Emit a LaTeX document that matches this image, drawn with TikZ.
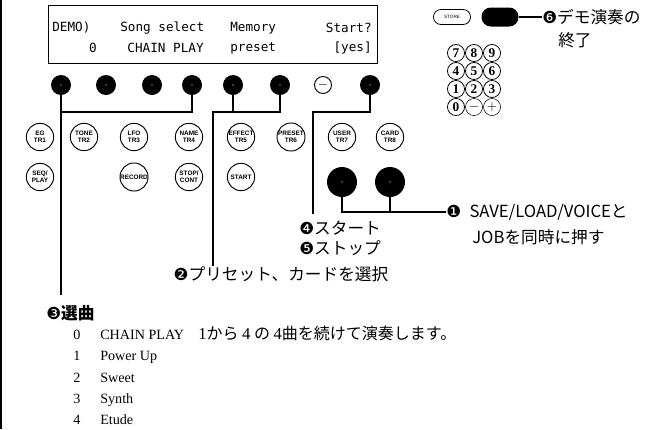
\documentclass[tikz,border=0pt]{standalone}
\usepackage{fontspec}
\setmainfont{Liberation Serif}
\setsansfont{Liberation Sans}
\newfontfamily\jpfont{Noto Sans CJK JP}
\newfontfamily\lcdfont{DejaVu Sans Mono}
\newfontfamily\dingfont{DejaVu Sans}
\usepackage{tikz}

\tikzset{
  lcdtext/.style={font=\lcdfont\fontsize{9.5}{10}\selectfont, inner sep=0pt},
  selbtn/.style={circle, fill=black, minimum size=15pt, inner sep=0pt,
    path picture={\fill[white] (path picture bounding box.center) circle (0.5pt);}},
  bigbtn/.style={selbtn, minimum size=22.5pt},
  keybtn/.style={circle, draw, line width=0.7pt, minimum size=20.5pt, inner sep=0pt,
    align=center, font=\sffamily\bfseries\fontsize{4.8}{5.2}\selectfont},
  padkey/.style={circle, draw, line width=0.6pt, minimum size=12.8pt, inner sep=0pt,
    font=\bfseries\fontsize{10}{10}\selectfont},
  conn/.style={line width=1.1pt},
  jplabel/.style={font=\jpfont\fontsize{12.5}{14}\selectfont, inner sep=0pt},
  listtext/.style={font=\fontsize{10.6}{12}\selectfont, inner sep=0pt},
}
\newcommand{\jplist}{\jpfont\fontsize{12}{12}\selectfont}
\newcommand{\bigdigit}{\fontsize{12.5}{12}\selectfont}

\begin{document}
\begin{tikzpicture}[x=0.75pt, y=-0.75pt]
\useasboundingbox (0,0) rectangle (655,429);

% page edge
\draw[line width=0.9pt] (1,0) -- (1,429);

% LCD
\node[draw, line width=0.6pt, minimum width=246.75pt, minimum height=43.5pt, inner sep=0pt] (lcd) at (212.5,34) {};
\node[lcdtext, anchor=west] (demo) at (52,28) {DEMO)};
\node[lcdtext, anchor=west] (song) at (120,28) {Song select};
\node[lcdtext, anchor=west] (mem) at (230,28) {Memory};
\node[lcdtext, anchor=east] (startq) at (372,28) {Start?};
\node[lcdtext] (songno) at (93,48) {0};
\node[lcdtext, anchor=east] (chain) at (204,48) {CHAIN PLAY};
\node[lcdtext, anchor=west] (preset) at (230,48) {preset};
\node[lcdtext, anchor=east] (yes) at (372,48) {[yes]};

% buttons under the LCD
\node[selbtn] (b1) at (61,85) {};
\node[selbtn] (b2) at (106,85) {};
\node[selbtn] (b3) at (152,85) {};
\node[selbtn] (b4) at (192,85) {};
\node[selbtn] (b5) at (233,85) {};
\node[selbtn] (b6) at (280,85) {};
\node[circle, draw, line width=0.7pt, minimum size=12.75pt, inner sep=0pt] (b7) at (323,85) {$-$};
\node[selbtn] (b8) at (370,85) {};

% panel buttons
\node[keybtn] (eg) at (40,137) {EG\\TR1};
\node[keybtn] (tone) at (84,137) {TONE\\TR2};
\node[keybtn] (lfo) at (134,137) {LFO\\TR3};
\node[keybtn] (name) at (189,137) {NAME\\TR4};
\node[keybtn] (effect) at (241,137) {EFFECT\\TR5};
\node[keybtn] (presetb) at (291,137) {PRESET\\TR6};
\node[keybtn] (user) at (342,137) {USER\\TR7};
\node[keybtn] (card) at (390,137) {CARD\\TR8};
\node[keybtn] (seq) at (40,177) {SEQ/\\PLAY};
\node[keybtn] (record) at (134,177) {RECORD};
\node[keybtn] (stop) at (189,177) {STOP/\\CONT};
\node[keybtn] (start) at (241,177) {START};
\node[bigbtn] (save) at (342,182) {};
\node[bigbtn] (job) at (390,182) {};

% STORE and demo buttons
\node[draw, line width=0.6pt, rounded corners=5.5pt, minimum width=27.75pt, minimum height=11.25pt,
  inner sep=0pt, font=\sffamily\fontsize{3.5}{4}\selectfont] (store) at (452,17) {STORE};
\node[fill=black, rounded corners=7pt, minimum width=27.75pt, minimum height=14.25pt, inner sep=0pt] (play) at (500,17) {};

% ten keys
\node[padkey] (k7) at (456,53) {7};
\node[padkey] (k8) at (474,53) {8};
\node[padkey] (k9) at (492,53) {9};
\node[padkey] (k4) at (456,71) {4};
\node[padkey] (k5) at (474,71) {5};
\node[padkey] (k6) at (492,71) {6};
\node[padkey] (k1) at (456,89) {1};
\node[padkey] (k2) at (474,89) {2};
\node[padkey] (k3) at (492,89) {3};
\node[padkey] (k0) at (456,107) {0};
\node[padkey, line width=0.4pt] (kminus) at (474,107) {$-$};
\node[padkey, line width=0.4pt] (kplus) at (492,107) {$+$};

% labels
\node[jplabel, anchor=west] (demolab) at (542,17) {{\dingfont ❻}デモ演奏の};
\node[jplabel, anchor=west] (endlab) at (558,40) {終了};
\node[jplabel, anchor=west] (savelab) at (446,212) {{\dingfont ❶}\enspace SAVE/LOAD/VOICEと};
\node[jplabel, anchor=west] (joblab) at (472,237) {JOBを同時に押す};
\node[jplabel, anchor=west] (startlab) at (299,228) {{\dingfont ❹}スタート};
\node[jplabel, anchor=west] (stoplab) at (299,248) {{\dingfont ❺}ストップ};
\node[jplabel] (cardlab) at (281,274) {{\dingfont ❷}プリセット、カードを選択};
\node[jplabel, anchor=west] (songlab) at (46,313) {{\dingfont ❸}\bfseries 選曲};

% song list (on common baselines)
\node[listtext, anchor=base] (n0) at (77,339) {0};
\node[listtext, anchor=base] (n1) at (77,360) {1};
\node[listtext, anchor=base] (n2) at (77,382) {2};
\node[listtext, anchor=base] (n3) at (77,403) {3};
\node[listtext, anchor=base] (n4) at (77,424) {4};
\node[listtext, anchor=base west] (s0) at (100,339) {CHAIN PLAY\quad {\bigdigit 1}{\jplist から} {\bigdigit 4} {\jplist の} {\bigdigit 4}{\jplist 曲を続けて演奏します。}};
\node[listtext, anchor=base west] (s1) at (100,360) {Power Up};
\node[listtext, anchor=base west] (s2) at (100,382) {Sweet};
\node[listtext, anchor=base west] (s3) at (100,403) {Synth};
\node[listtext, anchor=base west] (s4) at (100,424) {Etude};

% connectors
\coordinate (j1) at (61,112);
\coordinate (j4) at (192,112);
\coordinate (end3) at (61,295);
\draw[conn] (b1) -- (end3);
\draw[conn] (b4) -- (j4) -- (j1);

\coordinate (j2) at (213,112);
\coordinate (j5) at (233,112);
\coordinate (j6) at (280,112);
\coordinate (end2) at (213,266);
\draw[conn] (b5) -- (j5);
\draw[conn] (b6) -- (j6) -- (j2) -- (end2);

\coordinate (j8) at (370,112);
\coordinate (j45) at (313,112);
\coordinate (end45) at (313,214);
\draw[conn] (b8) -- (j8) -- (j45) -- (end45);

\coordinate (m1) at (342,212);
\coordinate (m2) at (390,212);
\draw[conn] (save) -- (m1) -- (savelab.west);
\draw[conn] (job) -- (m2);

\draw[conn] (play) -- (demolab.west);

\end{tikzpicture}
\end{document}
